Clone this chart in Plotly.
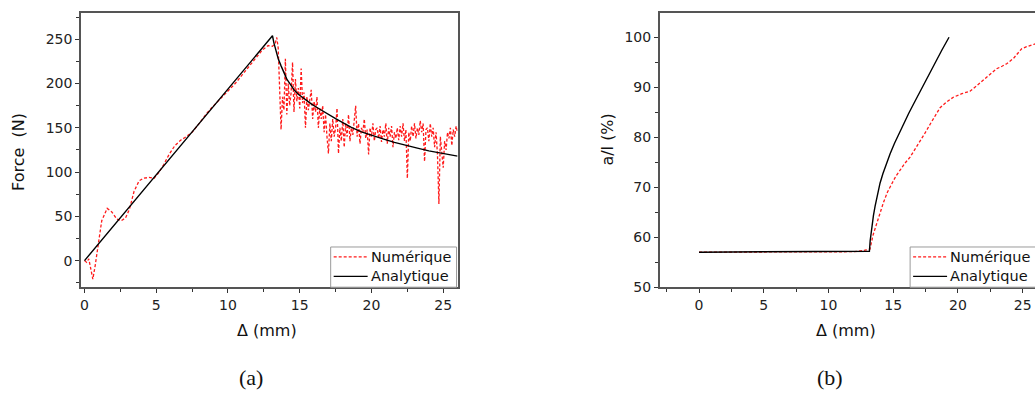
import plotly.graph_objects as go

W, H = 1035, 403

# ---------------- Panel (a): Force vs displacement ----------------
ana_a_x = [0, 13.1, 13.2, 13.35, 13.5, 13.7, 13.9, 14.1, 14.35, 14.6, 14.9, 15.2, 15.5, 15.8, 16.2,
           16.6, 17.0, 17.5, 18.0, 18.6, 19.3, 20.0, 20.8, 21.6, 22.4, 23.2, 24.0, 25.0, 26.0]
ana_a_F = [0, 254, 246, 236, 228, 220, 212, 205, 199, 193, 188, 184, 180.5, 177, 173,
           169, 165, 160.5, 156, 150.5, 145.5, 141.5, 137.5, 133.5, 130, 127, 124, 121, 118]

num_a_x_start = [0, 0.15, 0.3, 0.45, 0.58, 0.75, 0.95, 1.2, 1.58, 1.9, 2.25, 2.55, 2.85, 3.13, 3.45,
                 3.8, 4.1, 4.5, 4.85, 5.2, 5.5, 5.9, 6.3, 6.7, 7.0, 7.5, 8.0, 8.5, 9.0, 9.5, 10.0,
                 10.5, 11.0, 11.5, 12.0, 12.4, 12.8, 13.1, 13.3]
num_a_F_start = [0, -2, 2, -12, -21, -5, 20, 45, 59, 55, 47, 45, 48, 58, 78,
                 90, 93, 94, 93, 100, 108, 120, 130, 136, 139, 145, 155, 166, 175, 183, 192,
                 200, 210, 220, 230, 238, 243, 242, 246]
# noisy post-peak part, sampled every 0.1 mm from 13.4 mm
num_a_F_noisy = [252, 240, 200, 148, 185, 170, 228, 165, 200, 175,
                 190, 224, 168, 205, 180, 195, 172, 217, 178, 190,
                 150, 185, 170, 180, 193, 160, 180, 168, 185, 150,
                 172, 160, 175, 145, 165, 140, 121, 155, 135, 160,
                 140, 150, 172, 121, 150, 135, 160, 128, 155, 140,
                 165, 135, 150, 142, 160, 175, 140, 155, 132, 150,
                 145, 160, 138, 148, 120, 150, 140, 155, 135, 148,
                 150, 138, 152, 134, 148, 140, 155, 132, 150, 140,
                 152, 128, 145, 138, 150, 136, 152, 140, 155, 135,
                 148, 93, 145, 135, 152, 140, 155, 138, 150, 142,
                 158, 145, 155, 112, 148, 150, 135, 155, 140, 150,
                 128, 145, 120, 64, 140, 118, 105, 135, 125, 145,
                 138, 150, 130, 148, 140, 152, 145]
num_a_x_noisy = [round(13.4 + 0.1 * i, 1) for i in range(len(num_a_F_noisy))]

num_a_x = num_a_x_start + num_a_x_noisy
num_a_F = num_a_F_start + num_a_F_noisy

# ---------------- Panel (b): crack length ratio ----------------
ana_b_x = [0, 13.16, 13.22, 13.3, 13.4, 13.47, 13.6, 13.75, 13.98, 14.2, 14.45, 14.76, 15.1,
           15.45, 15.79, 16.2, 16.6, 17.08, 17.6, 18.2, 18.75, 19.31]
ana_b_v = [57.0, 57.2, 59.3, 61.2, 63.0, 64.3, 66.2, 68.1, 70.8, 72.7, 74.6, 76.7, 78.8,
           80.8, 82.6, 84.8, 86.8, 89.2, 91.8, 94.7, 97.4, 100.0]

num_b_x = [0, 6.0, 12.0, 12.8, 13.2, 13.45, 13.73, 14.0, 14.24, 14.55, 14.89, 15.2, 15.53, 15.9,
           16.3, 16.7, 17.08, 17.45, 17.85, 18.25, 18.62, 19.1, 19.64, 20.3, 20.93, 21.45, 21.96,
           22.5, 22.99, 23.4, 23.76, 24.3, 24.92, 25.3, 25.82, 26.0]
num_b_v = [57.0, 57.0, 57.1, 57.4, 57.6, 60.5, 62.9, 65.0, 66.9, 69.0, 70.8, 72.2, 73.4, 74.8,
           76.0, 77.6, 79.3, 80.8, 82.6, 84.4, 85.9, 87.0, 88.0, 88.7, 89.2, 90.3, 91.4,
           92.6, 93.7, 94.2, 94.7, 95.8, 97.7, 98.1, 98.6, 98.7]

legend_labels = ["Numérique", "Analytique"]

RED = "#ff1a1a"
BLACK = "#000000"
AXC = "#555555"
SANS = "DejaVu Sans, Liberation Sans, Arial, sans-serif"
TICKFONT = dict(family=SANS, size=14, color="#222222")
DASH = "3px,2px"

fig = go.Figure()
fig.add_trace(go.Scatter(x=num_a_x, y=num_a_F, mode="lines", name=legend_labels[0],
                         line=dict(color=RED, width=1.3, dash=DASH), xaxis="x", yaxis="y"))
fig.add_trace(go.Scatter(x=ana_a_x, y=ana_a_F, mode="lines", name=legend_labels[1],
                         line=dict(color=BLACK, width=1.4), xaxis="x", yaxis="y"))
fig.add_trace(go.Scatter(x=num_b_x, y=num_b_v, mode="lines", name=legend_labels[0],
                         line=dict(color=RED, width=1.3, dash=DASH), xaxis="x2", yaxis="y2"))
fig.add_trace(go.Scatter(x=ana_b_x, y=ana_b_v, mode="lines", name=legend_labels[1],
                         line=dict(color=BLACK, width=1.4), xaxis="x2", yaxis="y2"))

def axis(domain, rng, dtick, minor, mirror, anchor):
    return dict(domain=domain, range=rng, dtick=dtick, tick0=0, showgrid=False, zeroline=False,
                showline=True, linecolor=AXC, linewidth=1.5, mirror=mirror,
                ticks="outside", ticklen=4, tickwidth=1, tickcolor="#333333",
                minor=dict(ticks="outside", ticklen=3, dtick=minor, tick0=0, tickcolor="#333333", showgrid=False),
                tickfont=TICKFONT, anchor=anchor)

ybot = 1 - 293 / H
ytop = 1 - 13 / H
fig.update_layout(
    width=W, height=H, margin=dict(l=0, r=0, t=0, b=0),
    paper_bgcolor="white", plot_bgcolor="white",
    xaxis=axis([80 / W, 457 / W], [-0.25, 26.0], 5, 2.5, True, "y"),
    yaxis=axis([ybot, ytop], [-30, 280], 50, 25, True, "x"),
    xaxis2=axis([659.3 / W, 1.0], [-3.04, 25.95], 5, 2.5, True, "y2"),
    yaxis2=axis([ybot, ytop], [50, 104.9], 10, 5, False, "x2"),
    showlegend=False,
)

def px_x(p):
    return p / W

def px_y(p):
    return 1 - p / H

def ann(text, px, py, size, family, rot=0, xanchor="center"):
    fig.add_annotation(text=text, x=px_x(px), y=px_y(py), xref="paper", yref="paper",
                       showarrow=False, textangle=rot,
                       font=dict(size=size, family=family, color="#111111"),
                       xanchor=xanchor, yanchor="middle")

# legend boxes (drawn as shapes + text), one per panel
def legend_box(x0, x1, y0, y1):
    fig.add_shape(type="rect", xref="paper", yref="paper",
                  x0=px_x(x0), x1=px_x(x1), y0=px_y(y1), y1=px_y(y0),
                  line=dict(color="#9a9a9a", width=1), fillcolor="white", layer="above")
    rows = [(262, RED, DASH, legend_labels[0]), (282, BLACK, "solid", legend_labels[1])]
    for yy, col, dash, label in rows:
        fig.add_shape(type="line", xref="paper", yref="paper",
                      x0=px_x(x0 + 3), x1=px_x(x0 + 37), y0=px_y(yy), y1=px_y(yy),
                      line=dict(color=col, width=1.3, dash=dash), layer="above")
        ann(label, x0 + 38, yy, 14.5, SANS, xanchor="left")

legend_box(330, 456, 252, 293)
legend_box(910, 1040, 252, 293)

SERIF = "Liberation Serif, DejaVu Serif, serif"
ann("Force  (N)", 18, 155, 16, SANS, -90)
ann("a/l (%)", 607, 142, 16, SANS, -90)
ann("Δ (mm)", 266, 337, 16, SANS)
ann("Δ (mm)", 846, 337, 16, SANS)
ann("(a)", 250, 385, 22, SERIF)
ann("(b)", 830, 385, 22, SERIF)

fig.write_html("out.html", config={"displayModeBar": False},
               post_script="document.body.style.margin='0px';document.body.style.overflow='hidden';")
